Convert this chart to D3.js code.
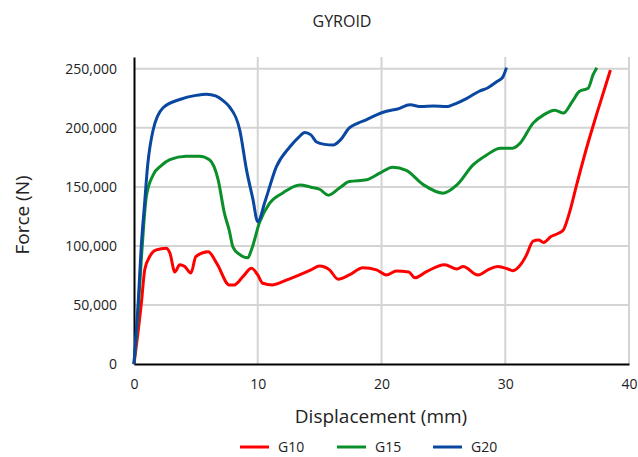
<!DOCTYPE html>
<html>
<head>
<meta charset="utf-8">
<script src="https://cdn.jsdelivr.net/npm/d3@7"></script>
<style>
  body { margin: 0; background: #fff; }
  text { font-family: "Open Sans", sans-serif; fill: #222; }
</style>
</head>
<body>
<svg id="chart" width="638" height="457"></svg>
<script>
// Displacement (mm), Force (N)
const g10 = [
  [0, 0], [0.6, 52000], [0.87, 80000], [1.27, 91000], [1.8, 96600], [2.6, 98000],
  [2.9, 94000], [3.3, 78000], [3.7, 84000], [4.1, 82500], [4.6, 77000], [5.0, 91000],
  [6.0, 95000], [6.7, 85000], [7.7, 67000], [8.1, 67000], [8.8, 74000], [9.5, 81000],
  [10.0, 75400], [10.4, 68400], [11.2, 67000], [12.3, 71000], [13.7, 77000], [14.3, 79700],
  [15.0, 83000], [15.8, 79700], [16.5, 71800], [17.4, 75400], [18.5, 81600], [19.6, 79700],
  [20.4, 75400], [21.2, 78800], [22.2, 78000], [22.7, 73000], [23.6, 78000], [25.1, 84000],
  [26.1, 80500], [26.6, 82500], [27.8, 75400], [28.6, 79700], [29.4, 82500], [30.2, 80500],
  [30.6, 79000], [31.3, 85000], [31.7, 92000], [32.25, 104000], [32.7, 105000], [33.1, 103000],
  [33.7, 108000], [34.3, 110700], [34.7, 113600], [35.1, 125000], [35.8, 153000], [36.6, 184000],
  [37.4, 212000], [38.5, 249000]
];
const g15 = [
  [0, 0], [0.3, 40000], [0.6, 90000], [0.8, 120000], [1.0, 142000], [1.54, 160000],
  [2.2, 168000], [2.9, 173000], [4.2, 176000], [5.3, 176000], [6.1, 173000], [6.8, 156000],
  [7.3, 128000], [7.7, 113000], [8.0, 99000], [8.5, 93000], [9.2, 90000], [9.5, 97000],
  [10.15, 120000], [10.95, 136000], [12.0, 144700], [13.4, 151700], [14.3, 149700], [15.0, 148000],
  [15.7, 143000], [16.6, 149000], [17.4, 154500], [18.8, 156000], [19.86, 161600], [20.9, 166700],
  [22.0, 164000], [23.4, 151700], [25.0, 144700], [26.1, 151700], [27.4, 168600], [28.5, 177000],
  [29.6, 182800], [30.6, 182800], [31.2, 187000], [32.25, 204000], [33.1, 211000], [34.0, 215000],
  [34.7, 212500], [35.4, 222000], [36.0, 231000], [36.7, 233600], [37.1, 245000], [37.4, 251000]
];
const g20 = [
  [0, 0], [0.3, 45000], [0.62, 105000], [0.85, 135000], [1.1, 168000], [1.54, 198000],
  [2.35, 217000], [3.7, 224000], [5.0, 227500], [5.85, 228500], [6.6, 227000], [7.2, 223000],
  [7.7, 218000], [8.55, 198000], [9.1, 164000], [9.6, 140000], [10.0, 120500], [10.6, 138000],
  [11.5, 167000], [12.6, 184000], [13.3, 192000], [13.8, 196000], [14.3, 194000], [14.75, 188000],
  [15.4, 186000], [16.1, 185500], [16.7, 190000], [17.4, 200000], [18.1, 204000], [18.8, 207000],
  [19.6, 211000], [20.4, 214000], [21.3, 216000], [22.3, 219500], [23.2, 218000], [24.2, 218500],
  [25.25, 218000], [26.1, 221000], [26.9, 225000], [27.9, 231000], [28.6, 234000], [29.3, 239000],
  [29.8, 243000], [30.1, 251000]
];

const seriesNames = ['G10', 'G15', 'G20'];
const seriesColors = ['#ff0000', '#0a8f2a', '#0a47a0'];
const xTicks = [0, 10, 20, 30, 40];
const yTicks = [0, 50000, 100000, 150000, 200000, 250000];

const svg = d3.select('#chart');

const x = d3.scaleLinear().domain([0, 40]).range([134, 629]);
const y = d3.scaleLinear().domain([0, 260000]).range([364, 57]);

// Gridlines.
svg.append('g')
  .selectAll('line.vgrid')
    .data(xTicks.slice(1))
  .enter()
    .append('line')
    .attr('x1', d => x(d)).attr('x2', d => x(d))
    .attr('y1', y(0)).attr('y2', y.range()[1])
    .attr('stroke', '#d4d4d4')
    .attr('stroke-width', 2);

svg.append('g')
  .selectAll('line.hgrid')
    .data(yTicks.slice(1))
  .enter()
    .append('line')
    .attr('x1', x(0)).attr('x2', x(40))
    .attr('y1', d => y(d)).attr('y2', d => y(d))
    .attr('stroke', '#d4d4d4')
    .attr('stroke-width', 2);

// Axes.
const fmt = d3.format(',');

const yAxis = svg.append('g')
  .attr('transform', `translate(${x(0)},0)`)
  .call(d3.axisLeft(y).tickValues(yTicks).tickFormat(fmt).tickSize(0).tickPadding(17));
yAxis.select('.domain').attr('stroke', '#000').attr('stroke-width', 2);
yAxis.selectAll('text').attr('font-size', 14).attr('font-family', '"Open Sans", sans-serif').attr('fill', '#222');

const xAxis = svg.append('g')
  .attr('transform', `translate(0,${y(0)})`)
  .call(d3.axisBottom(x).tickValues(xTicks).tickSize(0).tickPadding(15));
xAxis.select('.domain').attr('stroke', '#000').attr('stroke-width', 2);
xAxis.selectAll('text').attr('font-size', 14).attr('font-family', '"Open Sans", sans-serif').attr('fill', '#222');

// Lines.
const line = d3.line()
  .x(d => x(d[0]))
  .y(d => y(d[1]))
  .curve(d3.curveMonotoneX);

[g10, g15, g20].forEach((data, i) => {
  svg.append('path')
    .datum(data)
    .attr('fill', 'none')
    .attr('stroke', seriesColors[i])
    .attr('stroke-width', 3)
    .attr('stroke-linejoin', 'round')
    .attr('d', line);
});

// Titles.
svg.append('text')
  .attr('x', 342).attr('y', 27)
  .attr('text-anchor', 'middle')
  .attr('font-size', 16)
  .text('GYROID');

svg.append('text')
  .attr('x', 381).attr('y', 423)
  .attr('text-anchor', 'middle')
  .attr('font-size', 19)
  .text('Displacement (mm)');

svg.append('text')
  .attr('transform', 'translate(29,215) rotate(-90)')
  .attr('text-anchor', 'middle')
  .attr('font-size', 19)
  .text('Force (N)');

// Legend.
const legendX = [240, 337, 433];
const legend = svg.append('g')
  .selectAll('g')
    .data(seriesNames)
  .enter()
    .append('g')
    .attr('transform', (d, i) => `translate(${legendX[i]},447)`);

legend.append('line')
  .attr('x1', 0).attr('x2', 29)
  .attr('stroke', (d, i) => seriesColors[i])
  .attr('stroke-width', 3);

legend.append('text')
  .attr('x', 38).attr('y', 5)
  .attr('font-size', 14)
  .text(d => d);
</script>
</body>
</html>
